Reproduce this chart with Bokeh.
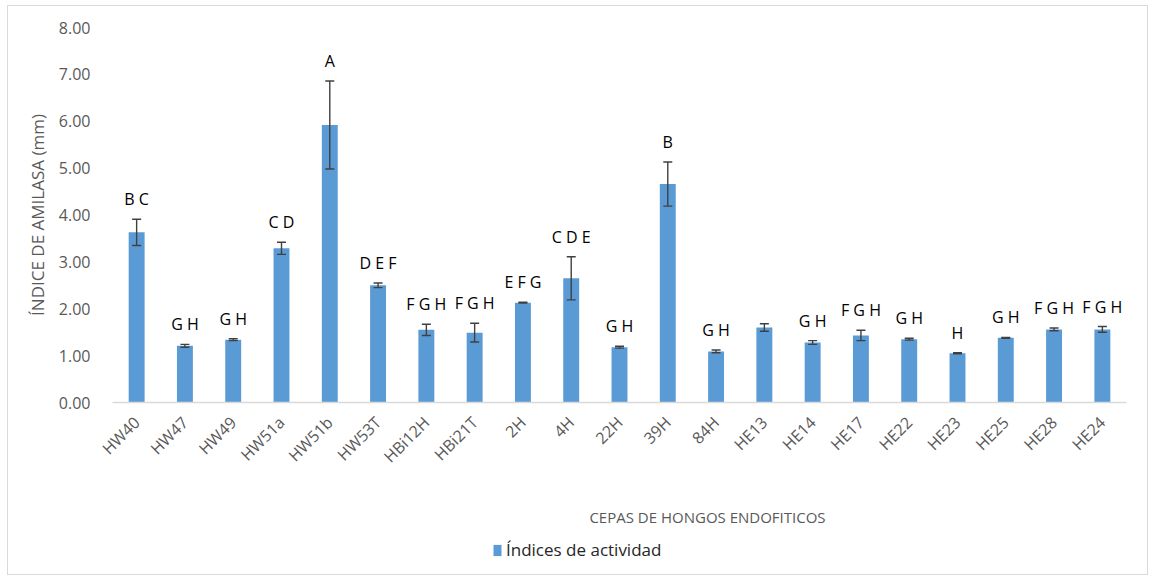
import math
from bokeh.plotting import figure
from bokeh.layouts import column
from bokeh.core.properties import value
from bokeh.models import (ColumnDataSource, Whisker, LabelSet, Legend, LegendItem,
                          Range1d, FactorRange, TeeHead)
from bokeh.embed import file_html
from bokeh.resources import INLINE

strains = ["HW40", "HW47", "HW49", "HW51a", "HW51b", "HW53T", "HBi12H", "HBi21T", "2H", "4H",
           "22H", "39H", "84H", "HE13", "HE14", "HE17", "HE22", "HE23", "HE25", "HE28", "HE24"]
values = [3.63, 1.21, 1.34, 3.29, 5.92, 2.50, 1.55, 1.49, 2.13, 2.65,
          1.18, 4.66, 1.09, 1.60, 1.28, 1.43, 1.35, 1.05, 1.38, 1.56, 1.56]
errors = [0.28, 0.03, 0.02, 0.13, 0.94, 0.05, 0.12, 0.20, 0.01, 0.46,
          0.02, 0.47, 0.03, 0.08, 0.04, 0.11, 0.02, 0.01, 0.01, 0.03, 0.06]
letters = ["B C", "G H", "G H", "C D", "A", "D E F", "F G H", "F G H", "E F G", "C D E",
           "G H", "B", "G H", "", "G H", "F G H", "G H", "H", "G H", "F G H", "F G H"]
y_ticks = [0, 1, 2, 3, 4, 5, 6, 7, 8]
x_title = "CEPAS DE HONGOS ENDOFITICOS"
series_name = "Índices de actividad"

FONT = "Open Sans"
GRAY = "#595959"
BLUE = "#5B9BD5"
W = 1139
ML, MR = 104, 21

src = ColumnDataSource(dict(
    x=strains, top=values,
    upper=[v + e for v, e in zip(values, errors)],
    lower=[v - e for v, e in zip(values, errors)],
    lab=letters,
))

# ---- main chart ----
p = figure(width=W, height=475, x_range=FactorRange(factors=strains),
           y_range=Range1d(0, 8), output_backend="svg", toolbar_location=None,
           min_border_left=ML, min_border_right=MR, min_border_top=21, min_border_bottom=79)
p.outline_line_color = None
p.background_fill_color = "white"
p.border_fill_color = "white"

bars = p.vbar(x="x", top="top", width=0.33, source=src, color=BLUE, line_color=None)

wh = Whisker(base="x", upper="upper", lower="lower", source=src, level="overlay",
             line_color="#404040", line_width=1.4,
             upper_head=TeeHead(size=9, line_color="#404040", line_width=1.4),
             lower_head=TeeHead(size=9, line_color="#404040", line_width=1.4))
p.add_layout(wh)

labels = LabelSet(x="x", y="upper", text="lab", source=src, y_offset=9,
                  text_align="center", text_baseline="bottom",
                  text_font=value(FONT), text_font_size="16px", text_color="#000000")
p.add_layout(labels)

p.xgrid.grid_line_color = None
p.ygrid.grid_line_color = None

p.yaxis.ticker = y_ticks
p.yaxis.major_label_overrides = {t: f"{t:.2f}" for t in y_ticks}
p.yaxis.axis_line_color = None
p.yaxis.major_tick_line_color = None
p.yaxis.minor_tick_line_color = None
p.yaxis.major_label_standoff = 16
p.yaxis.major_label_text_font = FONT
p.yaxis.major_label_text_font_size = "16px"
p.yaxis.major_label_text_color = GRAY
p.yaxis.axis_label = "ÍNDICE DE AMILASA (mm)"
p.yaxis.axis_label_text_font = FONT
p.yaxis.axis_label_text_font_size = "17px"
p.yaxis.axis_label_text_font_style = "normal"
p.yaxis.axis_label_text_color = GRAY
p.yaxis.axis_label_standoff = 7

p.xaxis.axis_line_color = "#D9D9D9"
p.xaxis.axis_line_width = 1.5
p.xaxis.major_tick_line_color = None
p.xaxis.minor_tick_line_color = None
p.xaxis.major_label_orientation = math.pi / 4
p.xaxis.major_label_standoff = 11
p.xaxis.major_label_text_font = FONT
p.xaxis.major_label_text_font_size = "16px"
p.xaxis.major_label_text_color = GRAY

# ---- bottom strip: axis title + legend (frame aligned with main chart) ----
H2 = 93
FL = 8 + ML            # page x of frame left
FR = 8 + W - MR        # page x of frame right
p2 = figure(width=W, height=H2, x_range=Range1d(FL, FR), y_range=Range1d(0, H2),
            output_backend="svg", toolbar_location=None,
            min_border_left=ML, min_border_right=MR, min_border_top=0, min_border_bottom=0)
p2.axis.visible = False
p2.grid.visible = False
p2.outline_line_color = None
p2.background_fill_color = "white"
p2.border_fill_color = "white"

p2.text(x=[707], y=[58], text=[x_title], text_align="center", text_baseline="middle",
        text_font=value(FONT), text_font_size="15px", text_color=GRAY)

# legend proxy (drawn outside the visible range, only used for the legend swatch)
proxy = p2.vbar(x=[0], top=[0], width=1, color=BLUE, line_color=None)
legend = Legend(items=[LegendItem(label=series_name, renderers=[proxy])],
                location=(492 - FL, 13), orientation="horizontal", padding=0, margin=0, spacing=0,
                glyph_width=10, glyph_height=14, label_standoff=4,
                label_text_font=FONT, label_text_font_size="17px", label_text_color="#262626",
                border_line_color=None, background_fill_alpha=0)
p2.add_layout(legend)

layout = column(p, p2, spacing=0)
layout.styles = {"border": "1px solid #D9D9D9", "margin": "5px 0 0 7px"}

open("out.html", "w").write(file_html(layout, INLINE))
